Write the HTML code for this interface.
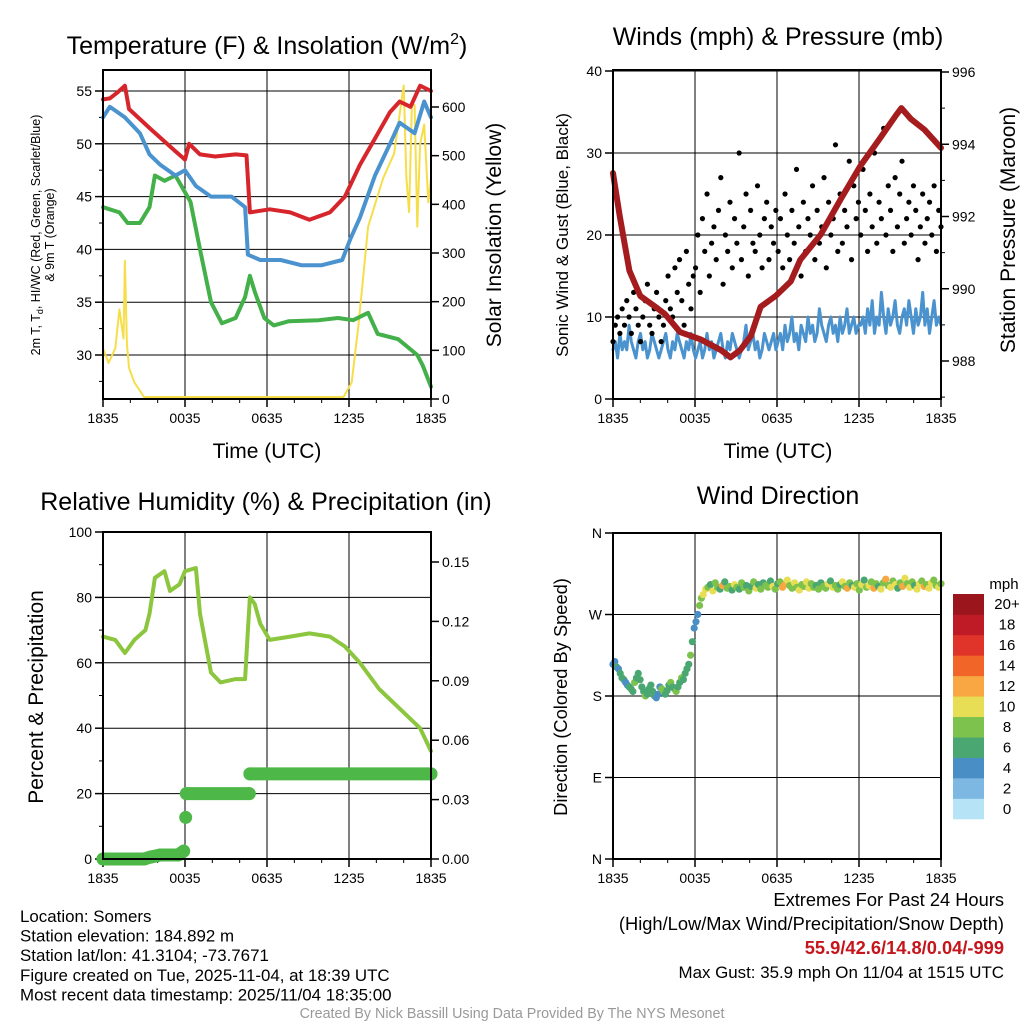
<!DOCTYPE html>
<html><head><meta charset="utf-8"><style>
body{margin:0;background:#fff;}
svg{display:block;font-family:"Liberation Sans",sans-serif;}
</style></head><body>
<svg id="s" width="1024" height="1024" viewBox="0 0 1024 1024">
<g id="g"></g>
</svg>
<script>
// ---- data ----
const hoursT=[0,0.5,1,1.6,1.9,3.4,5.3,6,6.3,7.1,8.2,9.7,10.5,10.75,12.2,13.7,15.1,16.6,17.7,18.8,19.9,21,21.7,22.5,23.2,24];
const tempRed=[54.2,54.3,54.8,55.5,53.3,51.5,49.3,48.5,50,49,48.8,49,48.9,43.5,43.8,43.5,42.8,43.5,45,48,50.5,53,54,53.5,55.5,55];
const hoursB=[0,0.5,1.6,2.7,3.4,4.2,5.3,6,6.8,7.9,9.4,10.4,10.6,11.5,13,14.5,16,17.5,18.1,18.8,19.9,21,21.7,22.8,23.5,24];
const tempBlue=[52.5,53.5,52.5,51,49,48,47,47.5,46,45,45,44,39.5,39,39,38.5,38.5,39,41,43,47,50,52,51,54,52.5];
const hoursG=[0,1.2,1.8,2.7,3.4,3.8,4.5,5.3,6.4,7.1,7.9,8.7,9.7,10.4,10.75,11.1,11.8,12.5,13.6,15.8,17.2,18.3,19.4,20.1,21.6,23.0,23.4,24];
const tempGreen=[44,43.5,42.5,42.5,44,47,46.5,47,44.5,40,35,33,33.5,35.5,37.5,36,33.5,32.8,33.2,33.3,33.5,33.3,34,32,31.5,30,29,27];
const hoursY=[0,0.4,0.9,1.2,1.5,1.6,1.75,1.9,2.3,3.0,17.6,18.2,18.7,19.4,20.5,21.3,21.6,22.0,22.2,22.4,22.6,22.8,23.0,23.2,23.5,23.8,24];
const solar=[100,70,100,180,120,280,110,60,30,0,0,30,150,350,450,500,560,640,450,380,600,600,350,520,560,400,450];
const hoursP=[0,0.5,1.2,2,3.1,3.8,4.9,6.4,7.9,8.6,9.3,10.1,10.8,11.9,13,13.7,15.2,16.7,18.1,19.6,20.7,21.1,21.8,22.8,24];
const pressure=[993.2,992,990.5,989.8,989.5,989.3,988.8,988.6,988.3,988.1,988.3,988.7,989.5,989.8,990.2,990.8,991.5,992.5,993.4,994.2,994.8,995.0,994.7,994.4,993.9];
const windSpeed=[6,7,5,8,6,7,6,9,7,6,5,7,8,6,7,5,6,8,7,6,5,6,7,8,6,5,7,6,8,7,6,5,7,6,8,6,
5,6,7,5,6,8,6,7,5,6,7,8,6,5,7,6,8,7,6,5,6,7,9,6,7,8,6,7,5,6,8,7,6,7,8,6,
7,8,6,9,7,8,10,7,8,6,9,8,7,10,8,9,7,8,11,9,8,7,9,10,8,9,7,10,8,9,11,8,9,10,8,9,
9,10,8,11,9,12,8,10,9,13,10,8,11,9,10,12,9,8,10,11,9,12,10,8,11,9,10,13,9,11,8,10,12,9,10,9];
const gusts=[7,9,10,8,11,9,12,10,8,13,11,9,7,10,12,14,9,8,11,13,10,7,9,12,15,11,10,16,13,17,12,9,18,14,11,15,
16,20,13,22,18,25,15,19,21,17,23,27,14,20,18,24,16,22,19,30,17,21,25,15,23,19,18,26,20,16,22,24,17,21,19,23,
18,22,16,25,20,17,23,19,28,21,15,24,18,22,20,26,17,23,19,21,27,16,24,20,22,31,18,25,19,23,21,29,17,26,22,24,
20,28,23,18,25,21,30,19,24,22,33,20,26,23,18,27,21,25,29,19,22,24,20,26,23,17,21,25,19,22,24,20,26,18,23,21];
const hoursRH=[0,0.9,1.6,2.3,3.1,3.4,3.8,4.5,4.9,5.6,6,6.8,7.1,7.9,8.6,9.7,10.4,10.6,10.75,11.1,11.5,12.2,13.7,15.1,16.6,17.7,18.8,20.2,21.7,23.2,24];
const rh=[68,67,63,67,70,75,86,88,82,84,88,89,75,57,54,55,55,70,80,78,72,67,68,69,68,65,60,52,46,40,33];
const hoursPr=[0,3.0,3.5,4.2,5.5,5.9,6.05,6.1,10.7,10.75,24];
const precip=[0,0,0.001,0.002,0.002,0.004,0.021,0.033,0.033,0.043,0.043];
const windDir=[215,218,212,210,205,200,198,195,192,190,188,185,195,200,205,198,190,185,180,182,188,192,185,180,178,182,190,188,185,182,186,192,195,190,188,185,190,195,200,198,205,210,215,225,240,255,262,270,280,288,
292,298,300,303,296,305,300,298,302,306,299,301,297,303,300,298,305,300,302,296,301,306,299,303,298,305,302,300,307,301,298,304,306,300,303,308,302,299,305,300,297,303,301,306,299,304,300,302,298,305,
301,299,304,307,300,302,298,303,306,301,299,305,302,300,304,297,303,308,300,302,306,299,304,301,298,305,309,302,300,307,303,299,305,301,310,304,300,306,302,298,304,307,301,303,299,305,308,302,300,304];
const dirSpeed=[5,5,6,5,6,7,6,5,4,7,6,7,8,7,6,7,7,6,8,7,6,7,6,7,4,4,5,8,9,7,6,7,8,6,7,8,6,7,8,6,7,6,7,8,6,4,4,5,8,9,
10,10,8,7,11,9,8,7,12,7,9,8,6,10,9,7,8,9,6,8,7,9,10,7,8,6,9,8,7,10,8,7,9,12,13,10,9,8,11,9,10,8,9,10,11,9,8,7,9,6,
8,9,10,7,11,8,9,6,10,8,12,9,7,10,8,9,11,7,8,10,9,13,8,7,10,9,12,8,11,9,10,7,9,12,11,8,10,9,7,11,10,8,12,9,10,11,8,9,10,9];
const barLabels=['0','2','4','6','8','10','12','14','16','18','20+'];
const barColors=['#b7e3f7','#7db8e3','#4a8ec6','#4aa771','#7dc24d','#e8de56','#f8a742','#f26529','#e0342a','#be1b27','#9a161c'];
const xTicks=['1835','0035','0635','1235','1835'];

// ---- helpers ----
const NS='http://www.w3.org/2000/svg';
const G=document.getElementById('g');
function el(tag,attrs,parent){const e=document.createElementNS(NS,tag);for(const k in attrs)e.setAttribute(k,attrs[k]);(parent||G).appendChild(e);return e;}
function txt(x,y,s,size,anchor,name,extra){const t=el('text',Object.assign({x:x,y:y,'font-size':size,'text-anchor':anchor||'middle',fill:'#000'},extra||{}));t.textContent=s;


return t;}
function lin(d0,d1,p0,p1){return v=>p0+(v-d0)*(p1-p0)/(d1-d0);}
function poly(xs,ys,fx,fy,color,w,name){const pts=xs.map((h,i)=>fx(h).toFixed(1)+','+fy(ys[i]).toFixed(1)).join(' ');const p=el('polyline',{points:pts,fill:'none',stroke:color,'stroke-width':w,'stroke-linejoin':'round','stroke-linecap':'round'});


return p;}
function frame(x0,y0,x1,y1,name){const r=el('rect',{x:x0,y:y0,width:x1-x0,height:y1-y0,fill:'none',stroke:'#000','stroke-width':2});

}
function xaxis(x0,x1,y0,y1,name,grid){const fx=lin(0,24,x0,x1);
xTicks.forEach((t,i)=>{const x=fx(i*6);if(grid&&i>0&&i<4)el('line',{x1:x,y1:y0,x2:x,y2:y1,stroke:'#000','stroke-width':1});el('line',{x1:x,y1:y1,x2:x,y2:y1+8,stroke:'#000','stroke-width':1.5});txt(x,y1+24,t,14,'middle',name+'-tick-'+t);});
for(let h=0;h<=24;h+=2){if(h%6)el('line',{x1:fx(h),y1:y1,x2:fx(h),y2:y1+4,stroke:'#000','stroke-width':1});}
return fx;}
function yTicks(vals,labels,fy,x,side,name,grid,x0,x1){vals.forEach((v,i)=>{const y=fy(v);if(grid)el('line',{x1:x0,y1:y,x2:x1,y2:y,stroke:'#000','stroke-width':1});el('line',{x1:x,y1:y,x2:x+(side<0?-8:8),y2:y,stroke:'#000','stroke-width':1.5});txt(x+(side<0?-11:11),y+5,labels[i],14,side<0?'end':'start',name+'-tick-'+labels[i]);});}

// ===== Panel 1 =====
(function(){const X0=103,X1=431,Y0=70,Y1=399;
const t=txt(267,54,'Temperature (F) & Insolation (W/m',25,'middle','temp-title');
const sup=el('tspan',{dy:-10,'font-size':16},t);sup.textContent='2';const cl=el('tspan',{dy:10},t);cl.textContent=')';
const fx=xaxis(X0,X1,Y0,Y1,'temp-x',true);
const fy=lin(30,55,355,91), fs=lin(0,600,399,107);
yTicks([30,35,40,45,50,55],['30','35','40','45','50','55'],fy,X0,-1,'temp-y',true,X0,X1);
for(let v=27.5;v<57;v+=5)el('line',{x1:X0,y1:fy(v),x2:X0-4,y2:fy(v),stroke:'#000'});
yTicks([0,100,200,300,400,500,600],['0','100','200','300','400','500','600'],fs,X1,1,'solar-y',false);
poly(hoursY,solar,fx,v=>fs(v)-2,'#f6de4a',2,'solar-line');
poly(hoursG,tempGreen,fx,fy,'#43b04a',4,'dewpoint-line');
poly(hoursT,tempRed,fx,fy,'#d7262b',4,'temperature-line');
poly(hoursB,tempBlue,fx,fy,'#4a93cf',4,'windchill-line');
frame(X0,Y0,X1,Y1,'temp-plot-frame');
txt(267,458,'Time (UTC)',21,'middle','temp-x-title');
const yl=el('text',{transform:'translate(40,235) rotate(-90)','font-size':12.5,'text-anchor':'middle'});
yl.innerHTML='2m T, T<tspan dy="3" font-size="9">d</tspan><tspan dy="-3">, HI/WC (Red, Green, Scarlet/Blue)</tspan>';
txt(0,0,'& 9m T (Orange)',12.5,'middle','temp-y-title-2',{transform:'translate(54,235) rotate(-90)'});
txt(0,0,'Solar Insolation (Yellow)',21,'middle','solar-y-title',{transform:'translate(501,235) rotate(-90)'});
})();

// ===== Panel 2 =====
(function(){const X0=613,X1=941,Y0=70,Y1=399;
txt(778,45,'Winds (mph) & Pressure (mb)',25,'middle','wind-title');
const fx=xaxis(X0,X1,Y0,Y1,'wind-x',true);
const fy=lin(0,40,399,71), fp=lin(988,996,361,72);
yTicks([0,10,20,30,40],['0','10','20','30','40'],fy,X0,-1,'wind-y',true,X0,X1);
yTicks([988,990,992,994,996],['988','990','992','994','996'],fp,X1,1,'pressure-y',false);
for(let v=987;v<996;v+=2)el('line',{x1:X1,y1:fp(v),x2:X1+4,y2:fp(v),stroke:'#000'});
const hw=windSpeed.map((_,i)=>i*24/(windSpeed.length-1));
poly(hw,windSpeed,fx,fy,'#4a93cf',3,'sonic-wind-line');
gusts.forEach((v,i)=>{const c=el('circle',{cx:fx(i*24/(gusts.length-1)),cy:fy(v),r:2.6,fill:'#000'});

});
poly(hoursP,pressure,fx,fp,'#a51c1f',6,'pressure-line');
frame(X0,Y0,X1,Y1,'wind-plot-frame');
txt(778,458,'Time (UTC)',21,'middle','wind-x-title');
txt(0,0,'Sonic Wind & Gust (Blue, Black)',17,'middle','wind-y-title',{transform:'translate(568,235) rotate(-90)'});
txt(0,0,'Station Pressure (Maroon)',21,'middle','pressure-y-title',{transform:'translate(1015,230) rotate(-90)'});
})();

// ===== Panel 3 =====
(function(){const X0=103,X1=431,Y0=532,Y1=859;
txt(266,510,'Relative Humidity (%) & Precipitation (in)',25,'middle','rh-title');
const fx=xaxis(X0,X1,Y0,Y1,'rh-x',true);
const fy=lin(0,100,859,532), fpr=lin(0,0.15,859,562);
yTicks([0,20,40,60,80,100],['0','20','40','60','80','100'],fy,X0,-1,'rh-y',true,X0,X1);
for(let v=10;v<100;v+=20)el('line',{x1:X0,y1:fy(v),x2:X0-4,y2:fy(v),stroke:'#000'});
yTicks([0,0.03,0.06,0.09,0.12,0.15],['0.00','0.03','0.06','0.09','0.12','0.15'],fpr,X1,1,'precip-y',false);
poly(hoursRH,rh,fx,fy,'#8cc63f',4,'rh-line');
for(let i=0;i<hoursPr.length;i++){
 const c=el('circle',{cx:fx(hoursPr[i]),cy:fpr(precip[i]),r:6.5,fill:'#4db848'});
 
 
 if(i<hoursPr.length-1&&Math.abs(precip[i+1]-precip[i])<0.0025){
  const l=el('line',{x1:fx(hoursPr[i]),y1:fpr(precip[i]),x2:fx(hoursPr[i+1]),y2:fpr(precip[i+1]),stroke:'#4db848','stroke-width':13,'stroke-linecap':'round'});
  
  
 }
}
frame(X0,Y0,X1,Y1,'rh-plot-frame');
txt(0,0,'Percent & Precipitation',21,'middle','rh-y-title',{transform:'translate(43,697) rotate(-90)'});
})();

// ===== Panel 4 =====
(function(){const X0=613,X1=941,Y0=533,Y1=859;
txt(778,504,'Wind Direction',25,'middle','dir-title');
const fx=xaxis(X0,X1,Y0,Y1,'dir-x',true);
const fy=lin(0,360,859,533);
yTicks([0,90,180,270,360],['N','E','S','W','N'],fy,X0,-1,'dir-y',true,X0,X1);
windDir.forEach((d,i)=>{const h=i<50?i*6.6/50:6.6+(i-50)*17.4/(windDir.length-51);const ci=Math.min(10,Math.floor(dirSpeed[i]/2));
const c=el('circle',{cx:fx(h),cy:fy(d),r:3.6,fill:barColors[ci]});

});
frame(X0,Y0,X1,Y1,'dir-plot-frame');
txt(0,0,'Direction (Colored By Speed)',18.3,'middle','dir-y-title',{transform:'translate(567,697) rotate(-90)'});
txt(1004,589,'mph',15,'middle','colorbar-title');
const bh=225/11;
barColors.forEach((c,i)=>{const y=819-(i+1)*bh;const r=el('rect',{x:953,y:y,width:31,height:bh+0.3,fill:c});


txt(1007,y+bh/2+5,barLabels[i],15,'middle','colorbar-label-'+barLabels[i]);});
})();

// ===== Footer =====
const left=['Location: Somers','Station elevation: 184.892 m','Station lat/lon: 41.3104; -73.7671','Figure created on Tue, 2025-11-04, at 18:39 UTC','Most recent data timestamp: 2025/11/04 18:35:00'];
left.forEach((s,i)=>txt(20,922+i*19.6,s,16.9,'start','footer-info-'+i));
txt(1004,906,'Extremes For Past 24 Hours',18.3,'end','extremes-title');
txt(1004,930,'(High/Low/Max Wind/Precipitation/Snow Depth)',18.3,'end','extremes-subtitle');
txt(1004,954,'55.9/42.6/14.8/0.04/-999',18.3,'end','extremes-values',{fill:'#c4161c','font-weight':'bold'});
txt(1004,978,'Max Gust: 35.9 mph On 11/04 at 1515 UTC',16.9,'end','max-gust');
txt(512,1018,'Created By Nick Bassill Using Data Provided By The NYS Mesonet',14.3,'middle','credit',{fill:'#999'});
</script>
</body></html>
